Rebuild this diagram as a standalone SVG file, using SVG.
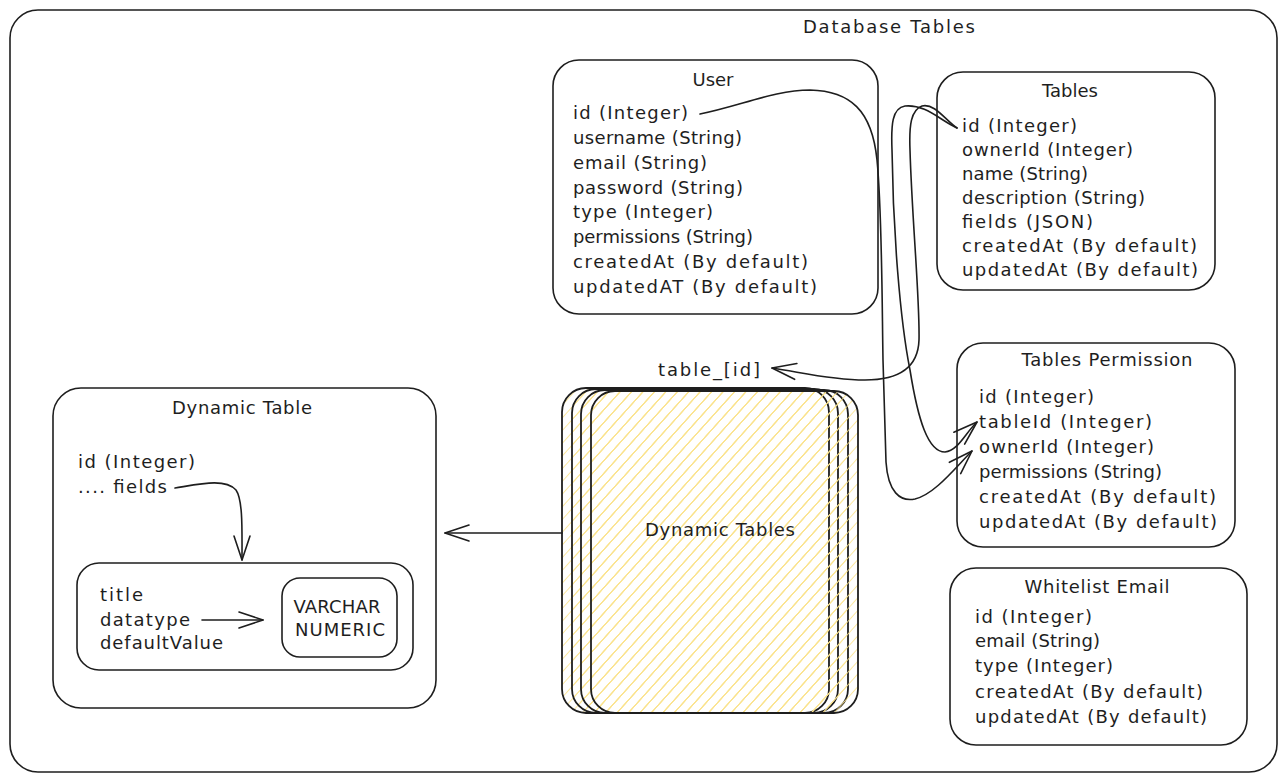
<svg xmlns="http://www.w3.org/2000/svg" width="1287" height="782" viewBox="0 0 1287 782">
<style>
.box{fill:none;stroke:#1e1e1e;stroke-width:1.6}
.stk{fill:url(#hatch);stroke:#1e1e1e;stroke-width:1.8}
.t{font-family:"DejaVu Sans","Liberation Sans",sans-serif;font-size:18px;fill:#1e1e1e}
.c{text-anchor:middle}
.ln{fill:none;stroke:#1e1e1e;stroke-width:1.6;stroke-linecap:round}
</style>
<defs>
<pattern id="hatch" patternUnits="userSpaceOnUse" width="8.5" height="8.5" patternTransform="rotate(42)">
<line x1="0" y1="-1" x2="0" y2="9.5" stroke="#fbe38c" stroke-width="1.6"/>
</pattern>
<marker id="arr" markerUnits="userSpaceOnUse" markerWidth="30" markerHeight="24" viewBox="-26 -12 30 24" refX="0" refY="0" orient="auto">
<path d="M-24,-8 L0,0 L-24,8" fill="none" stroke="#1e1e1e" stroke-width="1.6" stroke-linecap="round" stroke-linejoin="round"/>
</marker>
</defs>
<rect width="1287" height="782" fill="#ffffff"/>

<g id="node-database-tables">
<rect class="box" x="10" y="10" width="1267" height="762" rx="28"/>
<text class="t c" x="889" y="33" textLength="172" lengthAdjust="spacing">Database Tables</text>
</g>

<g id="node-user">
<rect class="box" x="553" y="60" width="325" height="254" rx="26"/>
<text class="t c" x="713" y="86">User</text>
<text class="t" x="573" y="119" textLength="115" lengthAdjust="spacing">id (Integer)</text>
<text class="t" x="573" y="144" textLength="169" lengthAdjust="spacing">username (String)</text>
<text class="t" x="573" y="169" textLength="134" lengthAdjust="spacing">email (String)</text>
<text class="t" x="573" y="194" textLength="170" lengthAdjust="spacing">password (String)</text>
<text class="t" x="573" y="218" textLength="140" lengthAdjust="spacing">type (Integer)</text>
<text class="t" x="573" y="243" textLength="180" lengthAdjust="spacing">permissions (String)</text>
<text class="t" x="573" y="268" textLength="235" lengthAdjust="spacing">createdAt (By default)</text>
<text class="t" x="573" y="293" textLength="244" lengthAdjust="spacing">updatedAT (By default)</text>
</g>

<g id="node-tables">
<rect class="box" x="937" y="72" width="278" height="218" rx="26"/>
<text class="t c" x="1070" y="97">Tables</text>
<text class="t" x="962" y="132" textLength="115" lengthAdjust="spacing">id (Integer)</text>
<text class="t" x="962" y="156" textLength="171" lengthAdjust="spacing">ownerId (Integer)</text>
<text class="t" x="962" y="180" textLength="126" lengthAdjust="spacing">name (String)</text>
<text class="t" x="962" y="204" textLength="183" lengthAdjust="spacing">description (String)</text>
<text class="t" x="962" y="228" textLength="131" lengthAdjust="spacing">fields (JSON)</text>
<text class="t" x="962" y="252" textLength="235" lengthAdjust="spacing">createdAt (By default)</text>
<text class="t" x="962" y="276" textLength="236" lengthAdjust="spacing">updatedAt (By default)</text>
</g>

<g id="node-tables-permission">
<rect class="box" x="957" y="343" width="278" height="204" rx="26"/>
<text class="t c" x="1107" y="366" textLength="171" lengthAdjust="spacing">Tables Permission</text>
<text class="t" x="979" y="403" textLength="115" lengthAdjust="spacing">id (Integer)</text>
<text class="t" x="979" y="428" textLength="173" lengthAdjust="spacing">tableId (Integer)</text>
<text class="t" x="979" y="453" textLength="175" lengthAdjust="spacing">ownerId (Integer)</text>
<text class="t" x="979" y="478" textLength="183" lengthAdjust="spacing">permissions (String)</text>
<text class="t" x="979" y="503" textLength="237" lengthAdjust="spacing">createdAt (By default)</text>
<text class="t" x="979" y="528" textLength="238" lengthAdjust="spacing">updatedAt (By default)</text>
</g>

<g id="node-whitelist-email">
<rect class="box" x="950" y="568" width="297" height="177" rx="26"/>
<text class="t c" x="1097" y="593" textLength="145" lengthAdjust="spacing">Whitelist Email</text>
<text class="t" x="975" y="623" textLength="117" lengthAdjust="spacing">id (Integer)</text>
<text class="t" x="975" y="647" textLength="125" lengthAdjust="spacing">email (String)</text>
<text class="t" x="975" y="672" textLength="138" lengthAdjust="spacing">type (Integer)</text>
<text class="t" x="975" y="698" textLength="228" lengthAdjust="spacing">createdAt (By default)</text>
<text class="t" x="975" y="723" textLength="232" lengthAdjust="spacing">updatedAt (By default)</text>
</g>

<g id="node-dynamic-table">
<rect class="box" x="53" y="388" width="383" height="320" rx="28"/>
<text class="t c" x="242" y="414" textLength="140" lengthAdjust="spacing">Dynamic Table</text>
<text class="t" x="78" y="468" textLength="117" lengthAdjust="spacing">id (Integer)</text>
<text class="t" x="78" y="493" textLength="89" lengthAdjust="spacing">.... fields</text>
</g>

<g id="node-field-definition">
<rect class="box" x="77" y="563" width="336" height="107" rx="22"/>
<text class="t" x="100" y="601" textLength="43" lengthAdjust="spacing">title</text>
<text class="t" x="100" y="626" textLength="90" lengthAdjust="spacing">datatype</text>
<text class="t" x="100" y="649" textLength="123" lengthAdjust="spacing">defaultValue</text>
</g>

<g id="node-datatypes">
<rect class="box" x="282" y="578" width="115" height="79" rx="18"/>
<text class="t c" x="337" y="613" textLength="87" lengthAdjust="spacing">VARCHAR</text>
<text class="t c" x="340" y="636" textLength="90" lengthAdjust="spacing">NUMERIC</text>
</g>

<g id="node-dynamic-tables">
<rect class="stk" x="562" y="388" width="267" height="325" rx="24"/>
<rect class="stk" x="572" y="389" width="266" height="324" rx="24"/>
<rect class="stk" x="581" y="390" width="267" height="323" rx="24"/>
<rect class="stk" x="591" y="391" width="267" height="322" rx="24"/>
<text class="t c" x="720" y="536" textLength="150" lengthAdjust="spacing">Dynamic Tables</text>
</g>

<g id="node-table-id-label">
<text class="t" x="658" y="376" textLength="102" lengthAdjust="spacing">table_[id]</text>
</g>

<g id="connectors">
<path class="ln" marker-end="url(#arr)" d="M700,114 C740,106 775,90 810,90 C850,91 872,110 877,160 C882,210 882,300 883,360 L886,462 C888,492 900,502 915,499 C935,494 955,468 972,451"/>
<path class="ln" marker-end="url(#arr)" d="M957,128 C940,120 925,104 905,106 C892,108 891,125 892,150 C893,230 900,320 910,370 C918,420 928,452 945,452 C958,451 966,432 977,422"/>
<path class="ln" marker-end="url(#arr)" d="M957,128 C945,120 935,103 922,106 C911,110 909,125 910,150 C912,220 920,300 919,340 C918,370 895,380 865,380 C830,380 800,372 772,368"/>
<path class="ln" marker-end="url(#arr)" d="M562,533 L445,533"/>
<path class="ln" marker-end="url(#arr)" d="M175,488 C200,484 225,478 236,490 C243,500 242,530 242,560"/>
<path class="ln" marker-end="url(#arr)" d="M202,620 L263,620"/>
</g>
</svg>
